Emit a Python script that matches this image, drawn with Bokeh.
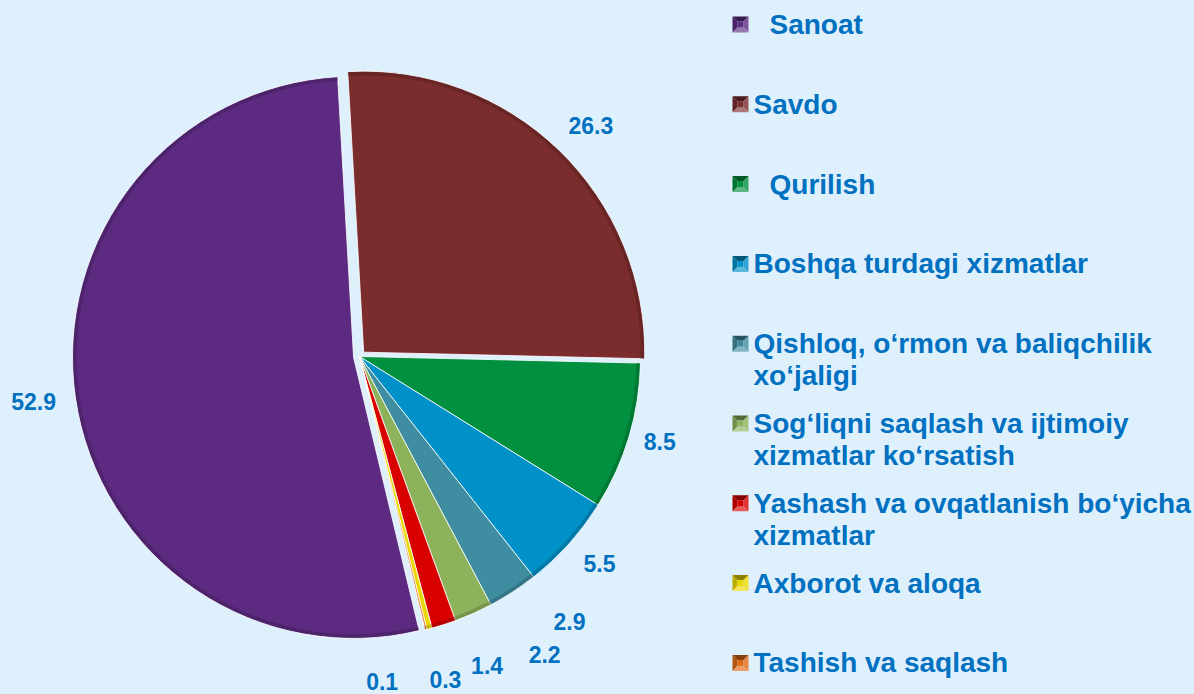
import math
from bokeh.plotting import figure
from bokeh.models import Range1d, ColumnDataSource
from bokeh.core.properties import value
from bokeh.embed import file_html
from bokeh.resources import INLINE

# ---------------- data ----------------
categories = [
    "Sanoat",
    "Savdo",
    "Qurilish",
    "Boshqa turdagi xizmatlar",
    "Qishloq, o‘rmon va baliqchilik\nxo‘jaligi",
    "Sog‘liqni saqlash va ijtimoiy\nxizmatlar ko‘rsatish",
    "Yashash va ovqatlanish bo‘yicha\nxizmatlar",
    "Axborot va aloqa",
    "Tashish va saqlash",
]
values = [52.9, 26.3, 8.5, 5.5, 2.9, 2.2, 1.4, 0.3, 0.1]
colors = ["#5C2A80", "#7B2C2D", "#00903F", "#0091C8", "#3F8DA0",
          "#8CB35C", "#D90000", "#EBD800", "#E06A14"]

# ---------------- layout / style ----------------
W, H = 1194, 694
BG = "#DFF0FD"
TXT = "#0070C0"
FONT = "Liberation Sans"

cx, cy = 359, 338          # pie centre (data units == pixels)
R = 281
first_angle = 166.5        # clockwise from 12 o'clock, start of first slice
explode = [6, 6, 0, 0, 0, 0, 0, 0, 0]
label_dist = [329, 327, 312, 317, 338, 351, 334, 334, 326]
label_nudge = [0.5, 1.0, -0.8, -1.0, -5.3, -7.9, -5.0, -0.5, 9.7]
legend_indent = [16, 0, 16, 0, 0, 0, 0, 0, 0]


def shade(hx, f):
    r, g, b = int(hx[1:3], 16), int(hx[3:5], 16), int(hx[5:7], 16)
    if f < 1:
        r, g, b = r * f, g * f, b * f
    else:
        t = f - 1
        r, g, b = r + (255 - r) * t, g + (255 - g) * t, b + (255 - b) * t
    return "#%02x%02x%02x" % (int(r), int(g), int(b))


edge_colors = [shade(c, 0.65) for c in colors]

p = figure(width=W, height=H, x_range=Range1d(0, W), y_range=Range1d(0, H),
           x_axis_type=None, y_axis_type=None, toolbar_location=None,
           output_backend="svg", min_border=0)
p.background_fill_color = BG
p.border_fill_color = BG
p.outline_line_color = None
p.grid.visible = False

total = sum(values)
xs, ys, sa, ea, lx, ly, ltxt = [], [], [], [], [], [], []
cum = 0.0
for i, v in enumerate(values):
    a1 = first_angle + 360.0 * cum / total
    a2 = a1 + 360.0 * v / total
    cum += v
    mid = (a1 + a2) / 2.0
    mrad = math.radians(90 - mid)      # clockwise-from-top -> math angle
    xs.append(cx + explode[i] * math.cos(mrad))
    ys.append(cy + explode[i] * math.sin(mrad))
    sa.append(math.radians(90 - a2))
    ea.append(math.radians(90 - a1))
    lrad = math.radians(90 - (mid + label_nudge[i]))
    lx.append(cx + label_dist[i] * math.cos(lrad))
    ly.append(cy + label_dist[i] * math.sin(lrad))
    ltxt.append(f"{v:.1f}")

src = ColumnDataSource(dict(x=xs, y=ys, sa=sa, ea=ea, c=colors, ec=edge_colors))
p.wedge(x="x", y="y", radius=R, start_angle="sa", end_angle="ea",
        fill_color="c", line_color="#FFFFFF", line_width=1, line_alpha=0.8, source=src)
# bevel rim
p.annular_wedge(x="x", y="y", inner_radius=R - 4, outer_radius=R - 0.5, start_angle="sa",
                end_angle="ea", fill_color="ec", fill_alpha=0.45, line_color=None, source=src)

p.text(x=lx, y=ly, text=ltxt, text_font=value(FONT), text_font_style="bold",
       text_font_size=value("23px"), text_color=TXT, text_align="center",
       text_baseline="middle")

# ---------------- legend ----------------
leg_x0 = 740
leg_y0 = H - 24          # centre of first entry
leg_step = 79.8
line_h = 32
hs, ihs = 8, 3
pxs, pys, pcs = [], [], []
cxs, cys, ccs = [], [], []
tx, ty, tt = [], [], []
for i, name in enumerate(categories):
    yc = leg_y0 - i * leg_step
    mx, my = leg_x0, yc
    faces = [
        ([mx - hs, mx + hs, mx + ihs, mx - ihs], [my + hs, my + hs, my + ihs, my + ihs], 0.6),
        ([mx - hs, mx - hs, mx - ihs, mx - ihs], [my - hs, my + hs, my + ihs, my - ihs], 0.8),
        ([mx + hs, mx + hs, mx + ihs, mx + ihs], [my + hs, my - hs, my - ihs, my + ihs], 1.2),
        ([mx + hs, mx - hs, mx - ihs, mx + ihs], [my - hs, my - hs, my - ihs, my - ihs], 1.35),
    ]
    for fx, fy, f in faces:
        pxs.append(fx)
        pys.append(fy)
        pcs.append(shade(colors[i], f))
    cxs.append(mx)
    cys.append(my)
    ccs.append(colors[i])
    for j, line in enumerate(name.split("\n")):
        tx.append(leg_x0 + 13 + legend_indent[i])
        ty.append(yc - j * line_h)
        tt.append(line)

p.patches(xs=pxs, ys=pys, fill_color=pcs, line_color=None)
p.rect(x=cxs, y=cys, width=2 * ihs, height=2 * ihs, fill_color=ccs, line_color=None)
p.text(x=tx, y=ty, text=tt, text_font=value(FONT), text_font_style="bold",
       text_font_size=value("28px"), text_color=TXT, text_align="left",
       text_baseline="middle")

html = file_html(p, INLINE)
html = html.replace("<body>", '<body style="background-color:%s;">' % BG)
open("out.html", "w").write(html)
